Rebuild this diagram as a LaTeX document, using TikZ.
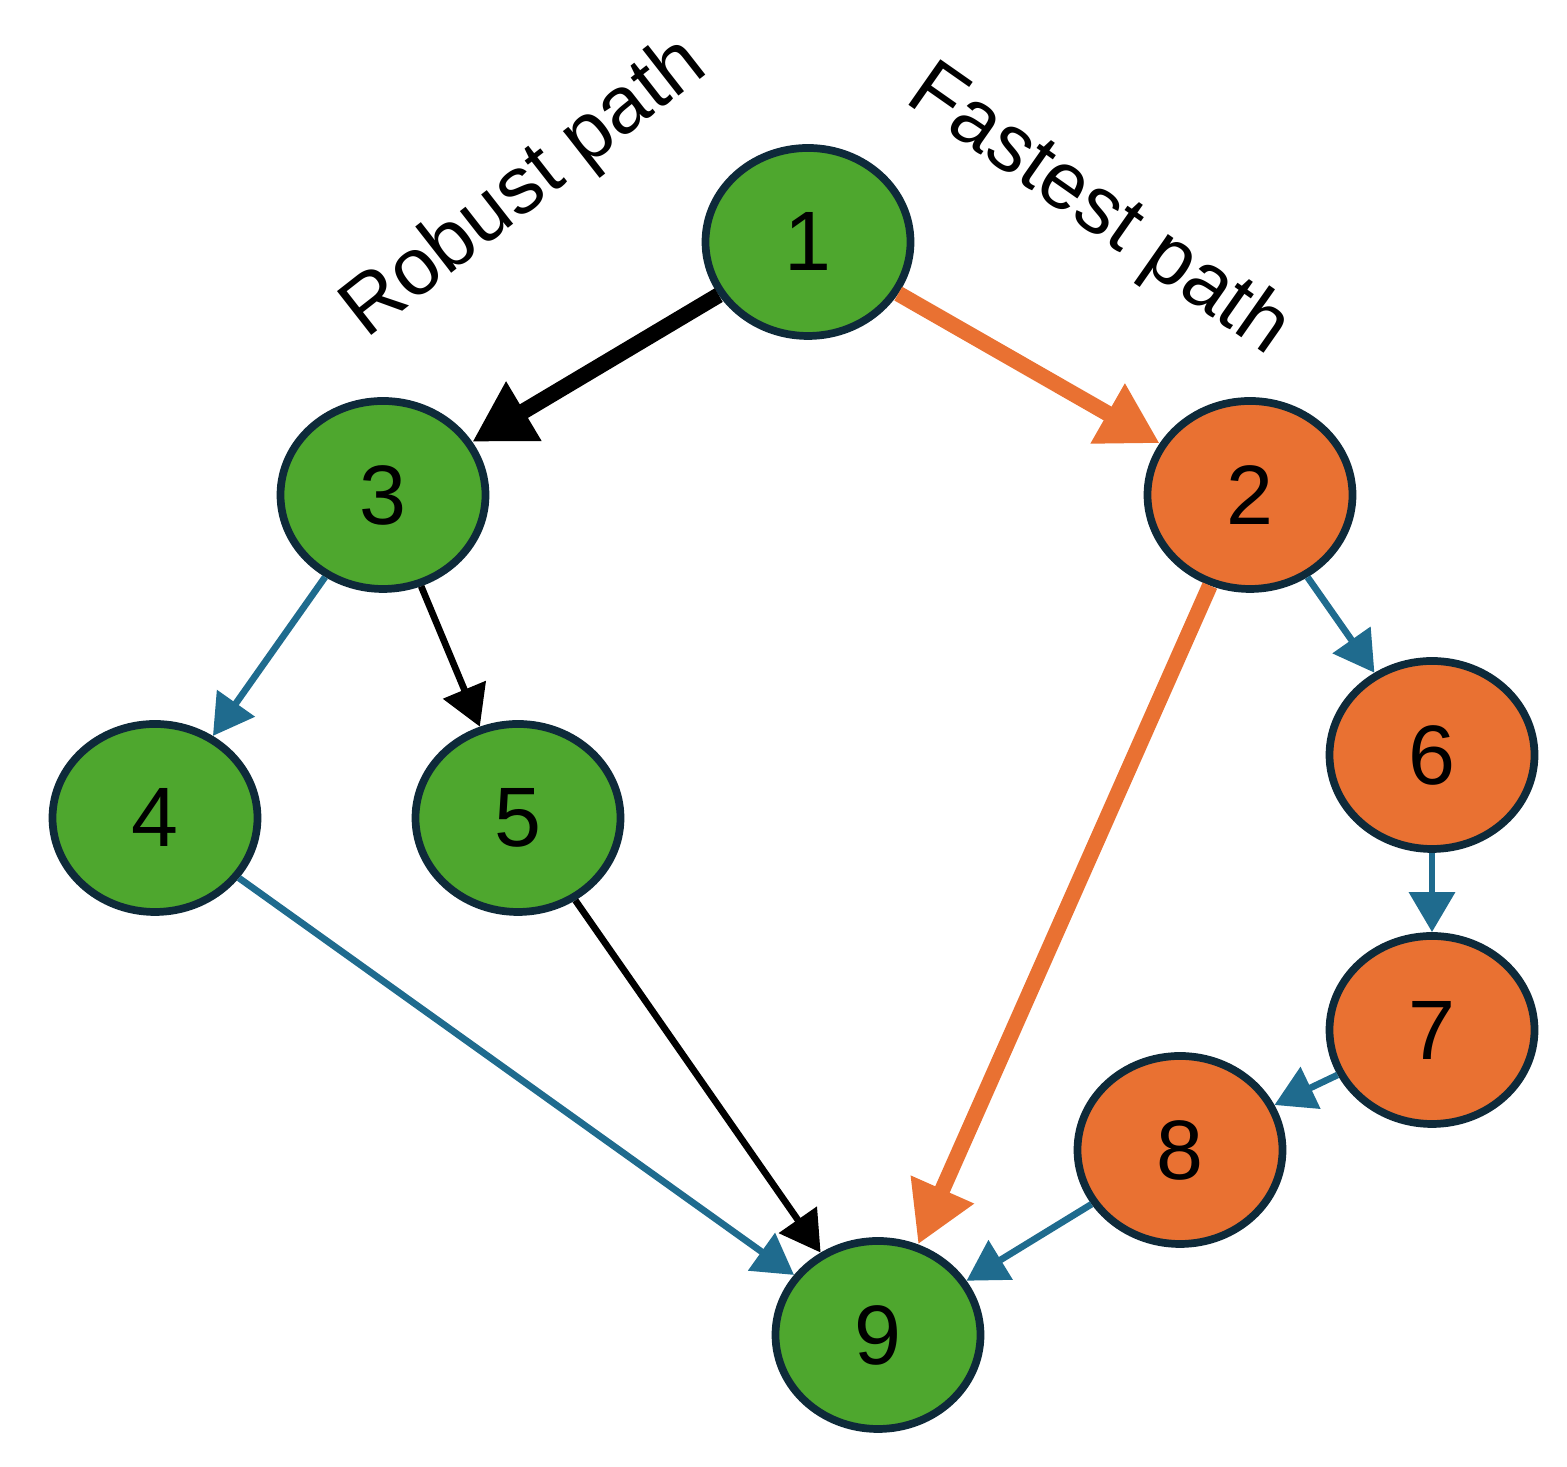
\documentclass[tikz,border=0pt]{standalone}
\usepackage{fontspec}
\setmainfont{Liberation Sans}
\usetikzlibrary{arrows.meta, shapes.geometric}
\definecolor{nodegreen}{HTML}{4EA72E}
\definecolor{nodeorange}{HTML}{E97132}
\definecolor{edgeblue}{HTML}{1F6B8E}
\definecolor{rim}{HTML}{0E2A3A}
\begin{document}
\begin{tikzpicture}[
  task/.style={ellipse, draw=rim, line width=2.2pt, minimum width=2.05cm, minimum height=1.88cm, font=\fontsize{24}{28}\selectfont, inner sep=0pt},
  robust/.style={task, fill=nodegreen},
  fast/.style={task, fill=nodeorange},
  link/.style={-{Triangle[length=4mm, width=4.5mm]}, line width=1.9pt},
  mainlink/.style={-{Triangle[length=6mm, width=6.5mm]}, line width=4.5pt},
  tag/.style={font=\fontsize{23}{27}\selectfont}
]
\useasboundingbox (0,0) rectangle (15.67,14.67);

% Nodes
\node (n1) [robust] at (8.08,12.25) {1};
\node (n3) [robust] at (3.83,9.72) {3};
\node (n2) [fast] at (12.50,9.72) {2};
\node (n4) [robust] at (1.55,6.49) {4};
\node (n5) [robust] at (5.18,6.49) {5};
\node (n6) [fast] at (14.32,7.12) {6};
\node (n7) [fast] at (14.32,4.37) {7};
\node (n8) [fast] at (11.80,3.17) {8};
\node (n9) [robust] at (8.78,1.32) {9};

% Labels
\node [tag, rotate=38] at (5.25,12.78) {Robust path};
\node [tag, rotate=-35] at (10.98,12.55) {Fastest path};

% Arrows
\draw[mainlink, black] (n1) -- (n3);
\draw[mainlink, nodeorange] (n1) -- (n2);
\draw[mainlink, nodeorange] (n2) -- (n9);
\draw[link, edgeblue] (n3) -- (n4);
\draw[link, black] (n3) -- (n5);
\draw[link, edgeblue] (n4) -- (n9);
\draw[link, black] (n5) -- (n9);
\draw[link, edgeblue] (n2) -- (n6);
\draw[link, edgeblue] (n6) -- (n7);
\draw[link, edgeblue] (n7) -- (n8);
\draw[link, edgeblue] (n8) -- (n9);

\end{tikzpicture}
\end{document}
